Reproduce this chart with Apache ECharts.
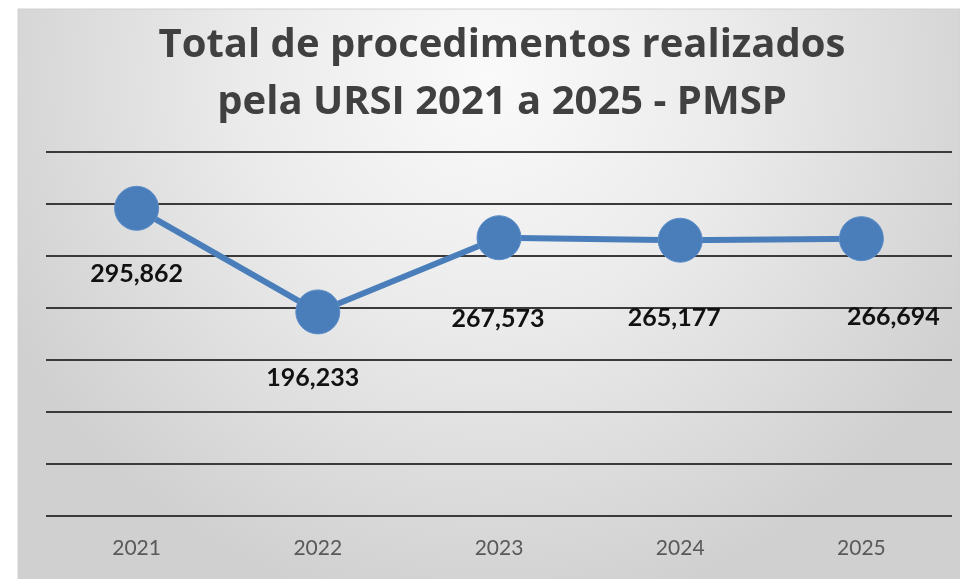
<!DOCTYPE html>
<html>
<head>
<meta charset="utf-8">
<title>Total de procedimentos realizados</title>
<script src="https://cdn.jsdelivr.net/npm/echarts@6/dist/echarts.min.js"></script>
<style>
    html, body { margin: 0; padding: 0; background: #fff; }
    #main { width: 960px; height: 579px; }
</style>
</head>
<body>
<div id="main"></div>
<script>
// dados do gráfico
var anos = ['2021', '2022', '2023', '2024', '2025'];
var procedimentos = [295862, 196233, 267573, 265177, 266694];
var yTicks = [0, 50000, 100000, 150000, 200000, 250000, 300000, 350000];

// deslocamento dos rótulos (ajuste manual como no Excel)
var labelOffsets = [[0, 66], [-5, 66], [-1, 81], [-6, 78], [32, 78]];

function fmt(v) {
    return String(v).replace(/\B(?=(\d{3})+(?!\d))/g, ',');
}

var myChart = echarts.init(document.getElementById('main'));
var option = {
    animation: false,
    graphic: [{
        type: 'rect',
        z: -10,
        silent: true,
        shape: { x: 18, y: 9, width: 942, height: 570 },
        style: {
            fill: new echarts.graphic.RadialGradient(0.5, 0.12, 0.95, [
                { offset: 0, color: '#fafafa' },
                { offset: 0.45, color: '#ebebeb' },
                { offset: 1, color: '#d0d0d0' }
            ]),
            stroke: '#d0d0d0',
            lineWidth: 1
        }
    }],
    title: {
        text: 'Total de procedimentos realizados\npela URSI 2021 a 2025 - PMSP',
        left: 497,
        top: 12,
        textAlign: 'center',
        textStyle: {
            fontFamily: 'Open Sans',
            fontWeight: 'bold',
            fontSize: 40,
            lineHeight: 57,
            color: '#404040'
        }
    },
    grid: {
        left: 46,
        right: 8,
        top: 152,
        bottom: 63
    },
    xAxis: {
        type: 'category',
        data: anos,
        axisLine: { show: false },
        axisTick: { show: false },
        axisLabel: {
            margin: 22,
            fontFamily: 'Lato',
            fontSize: 21,
            color: '#595959'
        }
    },
    yAxis: {
        type: 'value',
        min: yTicks[0],
        max: yTicks[yTicks.length - 1],
        interval: yTicks[1] - yTicks[0],
        axisLine: { show: false },
        axisTick: { show: false },
        axisLabel: { show: false },
        splitLine: {
            show: true,
            lineStyle: { color: '#3a3a3a', width: 2 }
        }
    },
    series: [{
        type: 'line',
        data: procedimentos.map(function (v, i) {
            return {
                value: v,
                label: { offset: labelOffsets[i] }
            };
        }),
        symbol: 'circle',
        symbolSize: 44,
        lineStyle: { color: '#4a7ebb', width: 6 },
        itemStyle: { color: '#4a7ebb', borderColor: '#5b8dc8', borderWidth: 1 },
        label: {
            show: true,
            position: 'inside',
            formatter: function (p) { return fmt(p.value); },
            fontFamily: 'Lato',
            fontWeight: 'bold',
            fontSize: 25,
            color: '#111'
        }
    }]
};
myChart.setOption(option);
</script>
</body>
</html>
